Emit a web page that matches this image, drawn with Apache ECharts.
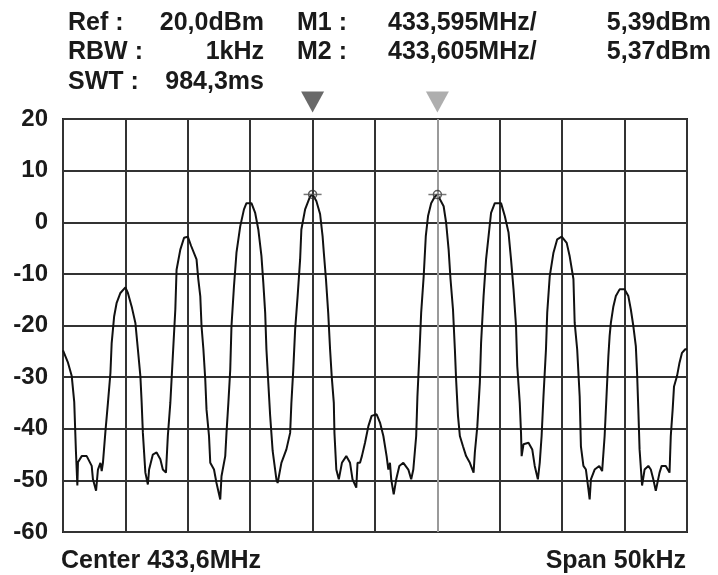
<!DOCTYPE html>
<html>
<head>
<meta charset="utf-8">
<script src="https://cdn.jsdelivr.net/npm/echarts@6/dist/echarts.min.js"></script>
<style>
  html, body { margin: 0; padding: 0; background: #fff; }
  #spectrum { width: 718px; height: 575px; }
</style>
</head>
<body>
<div id="spectrum"></div>
<script>
// trace: offset from centre (kHz) / level (dBm)
var traceFreq = [
  -25, -24.9, -24.6, -24.3, -24.1, -23.96, -23.85, -23.8, -23.5, -23.1, -22.7, -22.6, -22.35, -22.2, -22.0, -21.9, -21.8,
  -21.6, -21.4, -21.2, -21.1, -20.9, -20.7, -20.4, -20.0, -19.8, -19.5, -19.2, -19.0, -18.8, -18.7, -18.6, -18.4, -18.2,
  -18.1, -17.8, -17.5, -17.2, -17.0, -16.75, -16.6, -16.4, -16.2, -16.0, -15.9, -15.6, -15.3, -15.0, -14.73, -14.3,
  -14.16, -14.0, -13.9, -13.75, -13.6, -13.5, -13.3, -13.2, -12.9, -12.7, -12.4, -12.3, -12.0, -11.9, -11.75, -11.6,
  -11.5, -11.3, -11.1, -10.8, -10.5, -10.3, -9.9, -9.6, -9.35, -9.1, -8.95, -8.8, -8.7, -8.55, -8.4, -8.2, -8.1, -7.9,
  -7.8, -7.5, -7.1, -6.8, -6.7, -6.55, -6.4, -6.2, -6.0, -5.9, -5.6, -5.2, -5.0, -4.7, -4.4, -4.2, -4.1, -3.93, -3.75,
  -3.6, -3.47, -3.3, -3.25, -3.1, -2.9, -2.65, -2.3, -2.0, -1.8, -1.5, -1.4, -1.2, -1.05, -0.8, -0.53, -0.27, 0.13, 0.4,
  0.67, 0.93, 1.07, 1.2, 1.3, 1.5, 1.7, 1.95, 2.27, 2.67, 2.9, 3.07, 3.3, 3.4, 3.55, 3.7, 3.9, 4.07, 4.25, 4.5, 4.8, 5.0,
  5.5, 5.7, 5.9, 6.05, 6.25, 6.4, 6.5, 6.65, 6.8, 7.05, 7.3, 7.6, 7.9, 8.0, 8.2, 8.4, 8.5, 8.7, 8.9, 9.1, 9.3, 9.6, 10.1,
  10.4, 10.7, 10.9, 11.1, 11.3, 11.4, 11.6, 11.7, 11.75, 11.9, 12.3, 12.6, 12.8, 13.05, 13.2, 13.35, 13.5, 13.7, 13.8,
  14.0, 14.3, 14.6, 14.96, 15.36, 15.6, 15.9, 16.0, 16.2, 16.4, 16.5, 16.7, 16.9, 17.1, 17.2, 17.3, 17.6, 17.97, 18.2,
  18.35, 18.4, 18.55, 18.7, 18.8, 18.9, 19.1, 19.3, 19.6, 20.0, 20.3, 20.5, 20.7, 20.9, 21.0, 21.1, 21.2, 21.4, 21.6,
  21.9, 22.1, 22.3, 22.5, 22.8, 22.97, 23.3, 23.6, 23.7, 23.85, 23.96, 24.2, 24.4, 24.6, 24.86, 25
];
var traceLevel = [
  -24.8, -25, -27.2, -29.8, -34.8, -44.6, -51, -46.5, -45.3, -45.3, -47.2, -49.8, -52, -47.9, -46.6, -48.2, -46.6,
  -40.5, -35, -29.2, -23.4, -18.2, -15.6, -13.7, -12.6, -13.7, -16.3, -19.5, -24.6, -29.8, -34.8, -40.8, -48.5, -50.8,
  -47.9, -45, -44.6, -45.9, -47.9, -48.5, -41.4, -35, -25.9, -16.9, -9.2, -5.3, -3, -2.8, -4.6, -7.2,
  -11, -14.3, -20.1, -24.6, -30.5, -36.3, -41.4, -46.6, -47.9, -50.5, -53.7, -49.2, -45.3, -40.8, -35, -28.6,
  -20.1, -12.4, -5.9, -0.8, 2.5, 3.7, 3.7, 1.8, -1.4, -6.5, -11.7, -17.5, -24.6, -31.1, -37.5, -44.3, -44.6, -49.8,
  -50.5, -46.6, -44, -40.8, -35, -28.6, -20.8, -14.3, -7.2, -1.4, 2.5, 5.0, 5.39, 4.1, 1.6, -2.7, -5.9, -11, -17.5,
  -24.6, -29.8, -35, -40.8, -47.9, -49.8, -46.6, -45.3, -46.6, -49.8, -51.4, -46.6, -46.6, -45.3, -42.7, -39.5, -37.5, -37.2, -38.8,
  -41.4, -45.3, -47.9, -46.6, -49.8, -52.7, -49.8, -47.2, -46.6, -47.9, -49.8, -47.9, -41.4, -33.7, -25.9, -17.5, -10.5, -2.7, 1.2, 3.7, 5.0, 5.37,
  3.1, -0.1, -5.3, -11, -16.9, -24.6, -30.5, -37.5, -41.4, -43.4, -45.3, -46.6, -48.5, -44.6, -39.5, -31.1, -23.4, -14.3, -7.2, -2.7, 1.8, 3.7, 3.7,
  1.2, -2, -7.2, -13, -20.1, -27.9, -35, -40.8, -45.3, -43, -42.7, -44, -47.2, -49.8, -46.6, -41.4, -33.7, -24.6, -17.5,
  -10.5, -5.9, -3.3, -2.8, -4, -6.6, -11, -19.5, -24.6, -33.7, -43.4, -47.2, -47.9, -51.7, -53.7, -49.8, -47.9, -47.2, -48.2,
  -48.5, -41.4, -33.7, -25.9, -22, -19.5, -16.3, -14.3, -13, -13, -14.3, -16.9, -20.1, -24, -29.2, -36.3, -44, -51, -47.9,
  -47.2, -47.9, -49.8, -52, -48.5, -47.2, -47.2, -48.5, -41.4, -36.3, -31.8, -29.8, -27.2, -25.3, -24.6, -24.6
];

// markers M1 / M2
var markerFreq = [-5, 5];
var markerLevel = [5.39, 5.37];
var markerColor = ['#444444', '#9a9a9a'];

// axis
var spanMin = -25, spanMax = 25, spanStep = 5;
var levelMin = -60, levelMax = 20, levelStep = 10;

var headerRows = [
  ['Ref :', '20,0dBm', 'M1 :', '433,595MHz/', '5,39dBm'],
  ['RBW :', '1kHz', 'M2 :', '433,605MHz/', '5,37dBm'],
  ['SWT :', '984,3ms', '', '', '']
];
var centerLabel = 'Center 433,6MHz';
var spanLabel = 'Span 50kHz';

var FONT = '"Liberation Sans", Arial, sans-serif';

var traceData = traceFreq.map(function (f, i) { return [f, traceLevel[i]]; });

function headerText(str, x, y, align) {
  return {
    type: 'text', x: x, y: y, silent: true,
    style: {
      text: str, fill: '#1a1a1a', font: 'bold 25px ' + FONT,
      align: align, verticalAlign: 'middle'
    }
  };
}

var graphics = [];
var rowY = [23, 52, 82];
headerRows.forEach(function (row, r) {
  graphics.push(headerText(row[0], 68, rowY[r], 'left'));
  graphics.push(headerText(row[1], 264, rowY[r], 'right'));
  if (row[2]) graphics.push(headerText(row[2], 297, rowY[r], 'left'));
  if (row[3]) graphics.push(headerText(row[3], 388, rowY[r], 'left'));
  if (row[4]) graphics.push(headerText(row[4], 711, rowY[r], 'right'));
});
graphics.push(headerText(centerLabel, 61, 561, 'left'));
graphics.push(headerText(spanLabel, 686, 561, 'right'));

var chart = echarts.init(document.getElementById('spectrum'));
chart.setOption({
  animation: false,
  backgroundColor: '#fff',
  grid: {
    left: 63, right: 31, top: 119, bottom: 43,
    show: true, borderColor: '#222', borderWidth: 2
  },
  xAxis: {
    type: 'value', min: spanMin, max: spanMax, interval: spanStep,
    axisLine: { show: false }, axisTick: { show: false }, axisLabel: { show: false },
    splitLine: { show: true, lineStyle: { color: '#333', width: 2 } }
  },
  yAxis: {
    type: 'value', min: levelMin, max: levelMax, interval: levelStep,
    axisLine: { show: false }, axisTick: { show: false },
    axisLabel: {
      color: '#1a1a1a', fontSize: 24, fontWeight: 'bold', fontFamily: FONT, margin: 15
    },
    splitLine: { show: true, lineStyle: { color: '#333', width: 2 } }
  },
  graphic: graphics,
  series: [
    {
      type: 'line',
      data: traceData,
      showSymbol: false,
      lineStyle: { color: '#111', width: 2 },
      markLine: {
        silent: true, symbol: 'none', label: { show: false },
        lineStyle: { color: markerColor[1], width: 2, type: 'solid' },
        data: [{ xAxis: markerFreq[1] }]
      },
      z: 3
    },
    {
      // triangles above the screen
      type: 'scatter',
      clip: false,
      data: markerFreq.map(function (f, i) {
        return { value: [f, levelMax], itemStyle: { color: markerColor[i] } };
      }),
      symbol: 'triangle',
      symbolRotate: 180,
      symbolSize: [23, 21],
      symbolOffset: [0, -17],
      z: 4
    },
    {
      // marker ring on the peak
      type: 'scatter',
      data: markerFreq.map(function (f, i) { return [f, markerLevel[i]]; }),
      symbol: 'circle',
      symbolSize: 8,
      itemStyle: { color: 'rgba(0,0,0,0)', borderColor: '#333', borderWidth: 1.5 },
      z: 5
    },
    {
      // marker dash through the peak
      type: 'scatter',
      data: markerFreq.map(function (f, i) { return [f, markerLevel[i]]; }),
      symbol: 'rect',
      symbolSize: [18, 1.5],
      itemStyle: { color: '#555' },
      z: 5
    }
  ]
});
</script>
</body>
</html>
